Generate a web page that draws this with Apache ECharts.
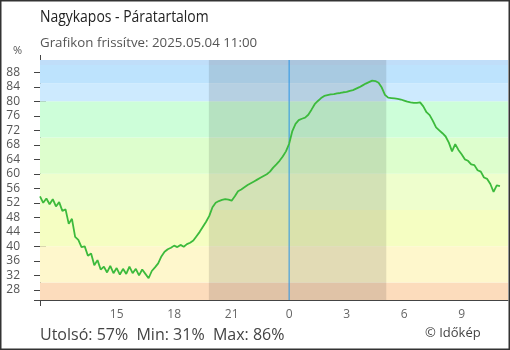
<!DOCTYPE html>
<html><head><meta charset="utf-8">
<script src="https://cdn.jsdelivr.net/npm/echarts@6/dist/echarts.min.js"></script>
<style>html,body{margin:0;padding:0;background:#fff}#c{width:510px;height:350px}</style>
</head><body><div id="c"></div>
<script>
const chartTitle = 'Nagykapos - Páratartalom';
const chartSubtitle = 'Grafikon frissítve: 2025.05.04 11:00';
const unitLabel = '%';
const credit = '© Időkép';
// hours relative to midnight; first reading 11:00 previous day, every 10 minutes
const startHour = -13;
const stepHours = 1 / 6;
const humidity = [
  53.8, 52.0, 53.2, 51.6, 53.0, 51.0, 52.2, 49.8, 50.2, 46.2,
  47.6, 42.6, 41.8, 39.8, 40.0, 37.4, 38.0, 34.8, 36.2, 33.6,
  34.4, 32.8, 34.6, 32.6, 34.0, 32.2, 33.8, 32.4, 34.4, 32.6,
  33.8, 32.0, 33.6, 32.4, 31.2, 33.2, 34.2, 35.3, 37.2, 38.5,
  39.2, 39.6, 40.2, 39.8, 40.4, 39.9, 40.6, 41.0, 41.6, 42.8,
  44.0, 45.4, 46.8, 48.4, 50.8, 52.0, 52.5, 52.8, 53.0, 52.9,
  52.6, 53.8, 55.2, 55.7, 56.3, 56.9, 57.4, 57.9, 58.4, 58.9,
  59.4, 59.9, 60.6, 61.7, 62.6, 63.6, 64.8, 66.2, 68.3, 71.8,
  73.8, 74.8, 75.2, 75.5, 76.3, 77.7, 79.2, 80.1, 80.9, 81.5,
  81.7, 81.9, 82.0, 82.2, 82.3, 82.5, 82.6, 82.9, 83.1, 83.5,
  83.9, 84.4, 84.9, 85.3, 85.7, 85.6, 85.1, 83.8, 81.8, 81.0,
  80.9, 80.8, 80.7, 80.5, 80.2, 79.9, 79.7, 79.6, 79.6, 79.7,
  78.6, 77.0, 76.2, 74.6, 72.8, 72.0, 71.2, 70.3, 68.6, 66.2,
  68.2, 66.6, 65.4, 64.0, 63.6, 62.6, 62.4, 61.0, 60.6, 59.0,
  58.6, 57.2, 55.0, 56.8, 56.6
];
const xTicks = [-9, -6, -3, 0, 3, 6, 9];
const yTicks = [28, 32, 36, 40, 44, 48, 52, 56, 60, 64, 68, 72, 76, 80, 84, 88];
const xMin = -13, xMax = 11.42;
const yMin = 25.2, yMax = 91.4;
const bandLimits = [25.2, 30, 40, 50, 60, 70, 80, 85, 90, 91.4];
const bandColors = ['#fcdcbc', '#fef7cc', '#f5fec2', '#eefecd', '#ddfecd', '#cdfed9', '#cdeafe', '#bde3fd', '#c0def9'];
const nightStart = -4.19, nightEnd = 5.07;
const nowHour = 0;

const data = humidity.map((v, i) => [startHour + i * stepHours, v]);
const last = humidity[humidity.length - 1];
const minV = Math.min(...humidity), maxV = Math.max(...humidity);
const bottomText = 'Utolsó: ' + Math.round(last) + '%  Min: ' + Math.round(minV) + '%  Max: ' + Math.round(maxV) + '%';

const bands = [];
for (let i = 0; i < bandColors.length; i++) {
  bands.push([{ yAxis: bandLimits[i], itemStyle: { color: bandColors[i] } }, { yAxis: bandLimits[i + 1] }]);
}
const FONT = 'Open Sans';
const chart = echarts.init(document.getElementById('c'), null, { renderer: 'canvas' });
chart.setOption({
  animation: false,
  backgroundColor: '#fff',
  textStyle: { fontFamily: FONT },
  title: [
    { text: chartSubtitle, left: 40, top: 37, padding: 0, textStyle: { fontFamily: FONT, fontSize: 13.3, fontWeight: 'normal', color: '#555' } },
    { text: unitLabel, left: 13, top: 45, padding: 0, textStyle: { fontFamily: FONT, fontSize: 11, fontWeight: 'normal', color: '#555' } },
    { text: bottomText, left: 40, top: 327, padding: 0, textStyle: { fontFamily: FONT, fontSize: 16, fontWeight: 'normal', color: '#444' } },
    { text: credit, left: 425, top: 327, padding: 0, textStyle: { fontFamily: FONT, fontSize: 13, fontWeight: 'normal', color: '#444' } }
  ],
  grid: { left: 40, right: 2, top: 60, bottom: 50, containLabel: false },
  xAxis: [
    {
      type: 'value', min: xMin, max: xMax,
      axisLine: { show: true, onZero: false, lineStyle: { color: '#444', width: 1 } },
      axisTick: { show: true, inside: true, length: 6, customValues: xTicks.filter(v => v !== nowHour), lineStyle: { color: '#444' } },
      axisLabel: { show: true, customValues: xTicks, margin: 9, fontSize: 12, color: '#666', fontFamily: FONT,
        formatter: v => String(((Math.round(v) % 24) + 24) % 24) },
      splitLine: { show: false }
    },
    {
      type: 'value', min: xMin, max: xMax, position: 'bottom',
      axisLine: { show: false, onZero: false },
      axisTick: { show: true, inside: false, length: 6, customValues: [xMin], lineStyle: { color: '#444' } },
      axisLabel: { show: false },
      splitLine: { show: false }
    }
  ],
  yAxis: [
    {
      type: 'value', min: yMin, max: yMax,
      axisLine: { show: true, onZero: false, lineStyle: { color: '#444', width: 1 } },
      axisTick: { show: true, inside: false, length: 6, customValues: yTicks.concat([yMin]), lineStyle: { color: '#444' } },
      axisLabel: { show: true, customValues: yTicks, margin: 20, fontSize: 12, color: '#555', fontFamily: FONT },
      splitLine: { show: false }
    },
    {
      type: 'value', min: yMin, max: yMax, position: 'left', offset: 0,
      axisLine: { show: false, onZero: false },
      axisTick: { show: true, inside: true, length: 6, customValues: yTicks.concat([yMin]), lineStyle: { color: '#444' } },
      axisLabel: { show: false },
      splitLine: { show: false }
    }
  ],
  series: [
    {
      type: 'line', data: data, symbol: 'none', silent: true, z: 1,
      lineStyle: { opacity: 0, width: 0 },
      markArea: { silent: true, data: bands }
    },
    {
      type: 'line', data: data, symbol: 'none', silent: true, z: 2,
      lineStyle: { opacity: 0, width: 0 },
      markArea: { silent: true, itemStyle: { color: 'rgba(0,0,0,0.11)' },
        data: [[{ xAxis: nightStart }, { xAxis: nightEnd }]] }
    },
    {
      type: 'line', data: [[nowHour, yMin], [nowHour, yMax]], symbol: 'none', silent: true, z: 3,
      lineStyle: { color: '#2a95e4', width: 1 }, itemStyle: { color: '#2a95e4' }
    },
    {
      type: 'line', data: data, symbol: 'none', z: 4,
      lineStyle: { color: '#3cba3c', width: 1.8 }, itemStyle: { color: '#3cba3c' }
    }
  ],
  graphic: [
    { type: 'text', x: 40, y: 9, scaleX: 0.82, silent: true,
      style: { text: chartTitle, fontFamily: FONT, fontSize: 17, fill: '#222' } },
    { type: 'line', shape: { x1: 40.5, y1: 55, x2: 40.5, y2: 60 }, style: { stroke: '#444', lineWidth: 1 } },
    { type: 'rect', shape: { x: 0, y: 0, width: 510, height: 350 }, style: { fill: 'none', stroke: '#333', lineWidth: 3 }, silent: true }
  ]
});
</script>
</body></html>
